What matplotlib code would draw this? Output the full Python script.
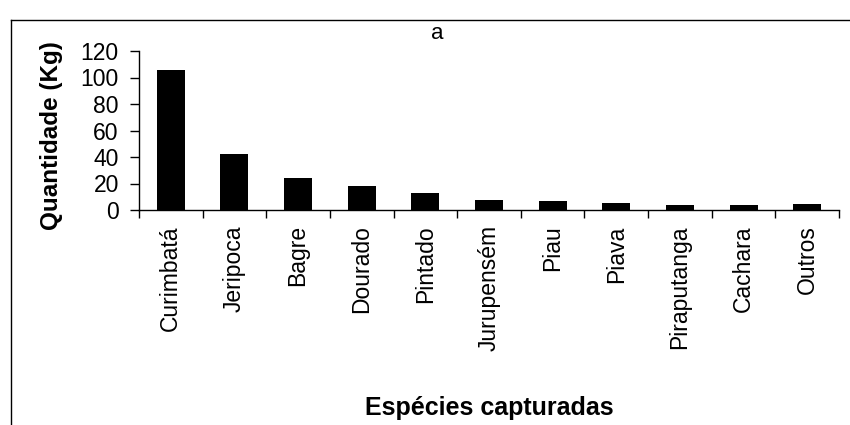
import matplotlib
matplotlib.use('Agg')
import matplotlib.pyplot as plt
from matplotlib.lines import Line2D
import numpy as np

especies = ['Curimbatá', 'Jeripoca', 'Bagre', 'Dourado', 'Pintado', 'Jurupensém',
            'Piau', 'Piava', 'Piraputanga', 'Cachara', 'Outros']
quantidade = [106, 42, 24, 18, 13, 7.5, 6.5, 5, 3.8, 3.8, 4.3]
yticks = [0, 20, 40, 60, 80, 100, 120]

plt.rcParams['font.family'] = ['Liberation Sans', 'DejaVu Sans']

fig = plt.figure(figsize=(8.5, 4.25), dpi=100)
ax = fig.add_axes([139/850, 1 - 210/425, 700/850, 159/425])

x = np.arange(len(especies))
ax.bar(x, quantidade, width=0.44, color='black')

ax.set_xlim(-0.5, len(especies) - 0.5)
ax.set_ylim(0, 120)
ax.set_yticks(yticks)
ax.tick_params(axis='y', labelsize=16.5, length=6.5, width=1, pad=8, direction='out')

ax.set_xticks(x)
ax.set_xticklabels(especies, rotation=90, fontsize=16.5)
ax.tick_params(axis='x', which='major', length=0, pad=11)
ax.set_xticks(np.arange(-0.5, len(especies)), minor=True)
ax.tick_params(axis='x', which='minor', length=6, width=1, direction='out')

for s in ['top', 'right']:
    ax.spines[s].set_visible(False)
for s in ['left', 'bottom']:
    ax.spines[s].set_linewidth(1)

ax.set_ylabel('Quantidade (Kg)', fontsize=17.5, fontweight='bold')
ax.yaxis.set_label_coords(-0.108, 0.47)
ax.set_xlabel('Espécies capturadas', fontsize=18, fontweight='bold')
ax.xaxis.set_label_coords(0.5, -1.245)
ax.xaxis.label.set_va('center')

ax.text(0.426, 1.113, 'a', transform=ax.transAxes, fontsize=16, ha='center', va='center')

# moldura em volta do grafico
fig.add_artist(Line2D([11/850, 11/850], [0, 1 - 20/425], color='black', lw=1))
fig.add_artist(Line2D([11/850, 1], [1 - 20/425, 1 - 20/425], color='black', lw=1))

fig.savefig('out.png', dpi=100)
